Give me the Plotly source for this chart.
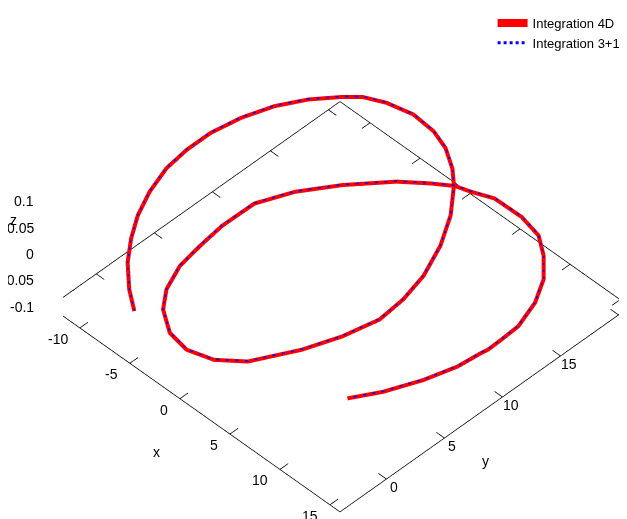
import plotly.graph_objects as go

# Orbit (z = 0 plane)
orbit_x = [-4.74, -6.54, -8.52, -10.01, -11.33, -12.41, -13.23, -13.52, -13.52, -13.07,
           -12.21, -10.99, -9.48, -8.46, -6.87, -4.69, -2.49, -0.71, 1.06, 2.35,
           4.30, 5.93, 7.22, 7.87, 8.11, 7.44, 6.36, 4.49, 2.68, 0.61,
           -1.42, -3.42, -4.68, -5.66, -6.07, -6.38, -6.34, -5.14, -3.25, -0.79,
           1.03, 2.45, 3.64, 5.30, 7.96, 10.12, 11.80, 13.46, 14.69, 15.52,
           15.62, 15.66, 15.55, 15.33, 14.58, 13.39, 12.08]
orbit_y = [-3.84, -2.73, -1.16, 0.42, 2.14, 4.09, 6.25, 8.25, 10.29, 12.52,
           14.70, 16.56, 18.17, 19.04, 19.71, 20.16, 20.01, 19.50, 18.56, 17.59,
           15.62, 13.34, 10.77, 8.46, 6.21, 3.58, 1.02, -2.03, -3.38, -3.94,
           -3.64, -2.50, -1.12, 0.89, 2.99, 5.15, 7.89, 10.35, 12.80, 15.34,
           16.69, 17.60, 17.93, 18.54, 18.58, 18.18, 17.17, 15.74, 13.94, 11.78,
           10.23, 9.03, 8.54, 6.70, 4.42, 1.95, 0.02]
orbit_z = [0.0, 0.0, 0.0, 0.0, 0.0, 0.0, 0.0, 0.0, 0.0, 0.0,
           0.0, 0.0, 0.0, 0.0, 0.0, 0.0, 0.0, 0.0, 0.0, 0.0,
           0.0, 0.0, 0.0, 0.0, 0.0, 0.0, 0.0, 0.0, 0.0, 0.0,
           0.0, 0.0, 0.0, 0.0, 0.0, 0.0, 0.0, 0.0, 0.0, 0.0,
           0.0, 0.0, 0.0, 0.0, 0.0, 0.0, 0.0, 0.0, 0.0, 0.0,
           0.0, 0.0, 0.0, 0.0, 0.0, 0.0, 0.0]

x_ticks = [-10, -5, 0, 5, 10, 15]
y_ticks = [0, 5, 10, 15, 20]
z_ticks = [-0.1, -0.05, 0, 0.05, 0.1]
z_tick_text = ["-0.1", "-0.05", "0", "0.05", "0.1"]

x_range = [-13, 16]
y_range = [-4, 21]
z_range = [-0.1, 0.1]

font = "Liberation Sans, Arial, sans-serif"
FS = 14
DEPTH_BIAS = 0.001  # lifts the dotted curve a hair so WebGL draws it over the red one
PAD = 0.0276        # WebGL clips at the scene box; keep the drawn frame just inside it

xmin, xmax = x_range
ymin, ymax = y_range
zmin, zmax = z_range
def padded(lo, hi):
    d = (hi - lo) * PAD
    return [lo - d, hi + d]

fig = go.Figure()
fig.add_trace(go.Scatter3d(x=orbit_x, y=orbit_y, z=orbit_z, mode="lines",
                           name="Integration 4D", legendrank=1,
                           line=dict(color="#ff0000", width=8)))
fig.add_trace(go.Scatter3d(x=orbit_x, y=orbit_y, z=[v + DEPTH_BIAS for v in orbit_z],
                           mode="lines", name="Integration 3+1", legendrank=2,
                           line=dict(color="#0000ff", width=3, dash="dot")))

# gnuplot-style frame: base border, inward ticks (mirrored), z axis at the left corner
tx, ty = 0.8, 0.7          # tick lengths in data units along the inward direction
fx, fy, fz = [], [], []
def seg(p, q):
    fx.extend([p[0], q[0], None]); fy.extend([p[1], q[1], None]); fz.extend([p[2], q[2], None])
base = [(xmin, ymin, zmin), (xmax, ymin, zmin), (xmax, ymax, zmin),
        (xmin, ymax, zmin), (xmin, ymin, zmin)]
for a, b in zip(base[:-1], base[1:]):
    seg(a, b)
for v in x_ticks:
    seg((v, ymin, zmin), (v, ymin + ty, zmin))
    seg((v, ymax, zmin), (v, ymax - ty, zmin))
for v in y_ticks:
    seg((xmax, v, zmin), (xmax - tx, v, zmin))
    seg((xmin, v, zmin), (xmin + tx, v, zmin))
for v in z_ticks:
    seg((xmin, ymin, v), (xmin + 0.45, ymin + 0.39, v))
# z axis: a hair off exact vertical so the WebGL line shader gives it width
seg((xmin, ymin, zmin), (xmin + 0.03, ymin + 0.03, zmax))
fig.add_trace(go.Scatter3d(x=fx, y=fy, z=fz, mode="lines", connectgaps=False,
                           line=dict(color="black", width=1.5),
                           showlegend=False, hoverinfo="skip"))

def ax(rng, tv):
    return dict(title=dict(text=""), range=padded(*rng), tickvals=tv, autorange=False,
                showgrid=False, zeroline=False, showbackground=False,
                showline=False, ticks="", showspikes=False, showticklabels=False)

def ann(x, y, z, text, xa, ya, xs, ys):
    return dict(x=x, y=y, z=z, text=text, showarrow=False, xanchor=xa, yanchor=ya,
                xshift=xs, yshift=ys, font=dict(family=font, size=FS, color="black"))

annotations = []
for v in x_ticks:
    annotations.append(ann(v, ymin, zmin, str(v), "right", "middle", -10, -11))
for v in y_ticks:
    annotations.append(ann(xmax, v, zmin, str(v), "center", "middle", 8, -8))
for v, t in zip(z_ticks, z_tick_text):
    annotations.append(ann(xmin, ymin, v, t, "right", "middle", -14, 0))
annotations.append(ann((xmin + xmax) / 2, ymin, zmin, "x", "center", "middle", -39, -43))
annotations.append(ann(xmax, (ymin + ymax) / 2, zmin, "y", "center", "middle", 0, -52))
annotations.append(ann(xmin, ymin, zmax, "z", "center", "middle", -37, -19))

center = dict(x=0.0436, y=0.0063, z=-0.0264)
eye = dict(x=0.75 + center["x"], y=-0.75 + center["y"], z=1.0607 + center["z"])
scale = 1 + 2 * PAD

fig.update_layout(
    width=627, height=519,
    margin=dict(l=0, r=0, t=0, b=0),
    paper_bgcolor="white",
    font=dict(family=font, size=FS, color="black"),
    showlegend=True,
    legend=dict(x=0.985, y=1.0, xanchor="right", yanchor="top",
                bgcolor="rgba(0,0,0,0)", font=dict(family=font, size=13),
                tracegroupgap=0),
    scene=dict(
        domain=dict(x=[0.088, 1.0], y=[0.0155, 1.0]),
        xaxis=ax(x_range, x_ticks),
        yaxis=ax(y_range, y_ticks),
        zaxis=ax(z_range, z_ticks),
        aspectmode="manual",
        aspectratio=dict(x=1.606 * scale, y=1.606 * scale, z=0.584 * scale),
        camera=dict(eye=eye, up=dict(x=0, y=0, z=1), center=center,
                    projection=dict(type="orthographic")),
        annotations=annotations,
    ),
)

fig.write_html("out.html")
